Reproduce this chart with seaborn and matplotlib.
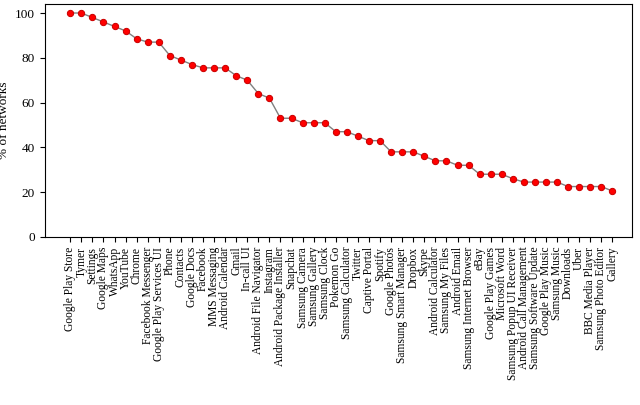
import matplotlib
matplotlib.use("Agg")
import matplotlib.pyplot as plt
import seaborn as sns
import pandas as pd

apps = ["Google Play Store", "Tymer", "Settings", "Google Maps", "WhatsApp", "YouTube", "Chrome",
        "Facebook Messenger", "Google Play Services UI", "Phone", "Contacts", "Google Docs", "Facebook",
        "MMS Messaging", "Android Calendar", "Gmail", "In-call UI", "Android File Navigator", "Instagram",
        "Android Package Installer", "Snapchat", "Samsung Camera", "Samsung Gallery", "Samsung Clock",
        "Pokemon Go", "Samsung Calculator", "Twitter", "Captive Portal", "Spotify", "Google Photos",
        "Samsung Smart Manager", "Dropbox", "Skype", "Android Calculator", "Samsung My Files",
        "Android Email", "Samsung Internet Browser", "eBay", "Google Play Games", "Microsoft Word",
        "Samsung Popup UI Receiver", "Android Call Management", "Samsung Software Update",
        "Google Play Music", "Samsung Music", "Downloads", "Uber", "BBC Media Player",
        "Samsung Photo Editor", "Gallery"]
pct = [100, 100, 98, 96, 94, 92, 88.5, 87, 87, 81, 79, 77, 75.5, 75.5, 75.5, 72, 70, 64, 62,
       53, 53, 51, 51, 51, 47, 47, 45, 43, 43, 38, 38, 38, 36, 34, 34, 32, 32, 28, 28, 28, 26,
       24.5, 24.5, 24.5, 24.5, 22.5, 22.5, 22.5, 22.5, 20.5]

plt.rcParams["font.family"] = "Liberation Serif"
df = pd.DataFrame({"x": range(len(apps)), "y": pct})
fig = plt.figure(figsize=(6.4, 4.05), dpi=100)
ax = fig.add_axes([0.07, 0.415, 0.918, 0.575])
sns.lineplot(data=df, x="x", y="y", ax=ax, color="#808080", lw=1, marker="o",
             markersize=4.5, markerfacecolor="#ff0000", markeredgecolor="#cc0000")
ax.set_xticks(range(len(apps)))
ax.set_xticklabels(apps, rotation=90, fontsize=8.3)
ax.set_yticks([0, 20, 40, 60, 80, 100])
ax.tick_params(axis="y", labelsize=9.5)
ax.set_xlim(-2.3, 50.8)
ax.set_ylim(0, 104)
ax.set_xlabel("apps", fontsize=9.5)
ax.xaxis.set_label_coords(0.5, -0.74)
ax.set_ylabel("% of networks", fontsize=9.5)
fig.savefig("out.png")
